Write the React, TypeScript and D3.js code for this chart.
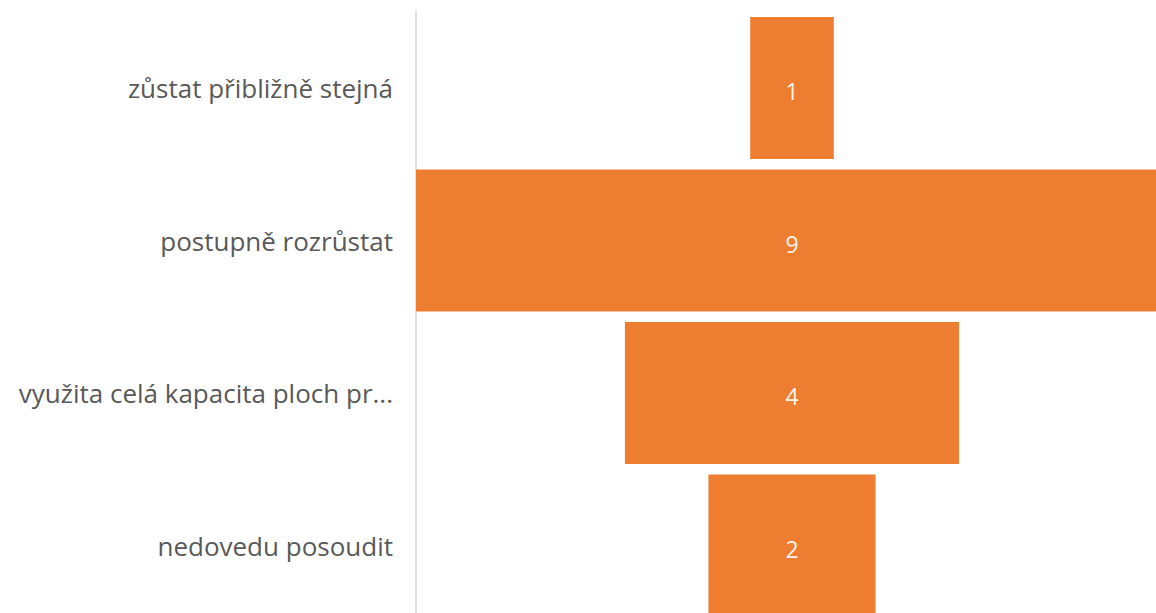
import React from "react";
import * as d3 from "d3";

const categories = [
  "zůstat přibližně stejná",
  "postupně rozrůstat",
  "využita celá kapacita ploch pr...",
  "nedovedu posoudit",
];
const values = [1, 9, 4, 2];

const W = 1156;
const H = 613;
const plotLeft = 416;
const plotRight = 1168;
const plotTop = 11.75;
const plotBottom = 621.75;

export default function App() {
  const y = d3
    .scaleBand<string>()
    .domain(categories)
    .range([plotTop, plotBottom])
    .paddingInner(0.069)
    .paddingOuter(0.0345);
  const maxV = d3.max(values) as number;
  const w = d3.scaleLinear().domain([0, maxV]).range([0, plotRight - plotLeft]);
  const cx = (plotLeft + plotRight) / 2;

  return (
    <svg
      width={W}
      height={H}
      style={{ position: "absolute", left: 0, top: 0, background: "#fff" }}
      fontFamily="'Open Sans', 'Noto Sans', sans-serif"
    >
      <line x1={plotLeft} x2={plotLeft} y1={10} y2={H} stroke="#d9d9d9" strokeWidth={1.5} />
      {categories.map((c, i) => {
        const yy = y(c)!;
        const bw = w(values[i]);
        const mid = yy + y.bandwidth() / 2;
        return (
          <g key={c}>
            <rect x={cx - bw / 2} y={yy} width={bw} height={y.bandwidth()} fill="#ED7D31" />
            <text
              x={cx}
              y={mid + 12}
              textAnchor="middle"
              fill="#fdf3ea"
              fontSize={23}
            >
              {values[i]}
            </text>
            <text
              x={393}
              y={mid + 10}
              textAnchor="end"
              fill="#595959"
              fontSize={26}
            >
              {c}
            </text>
          </g>
        );
      })}
    </svg>
  );
}
